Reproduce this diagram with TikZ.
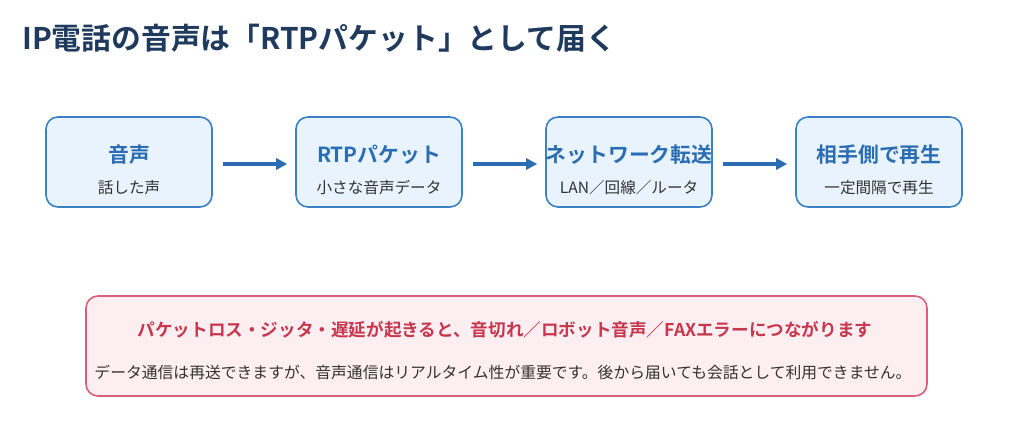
\documentclass[tikz,border=0pt]{standalone}
\usepackage{fontspec}
\setmainfont{Noto Sans CJK JP}[BoldFont={Noto Sans CJK JP Bold}]
\usetikzlibrary{arrows.meta}
\definecolor{navy}{HTML}{1F3A5C}
\definecolor{bluet}{HTML}{2B6DB2}
\definecolor{bluefill}{HTML}{E8F3FD}
\definecolor{blueline}{HTML}{3A82C4}
\definecolor{redt}{HTML}{C8374E}
\definecolor{redfill}{HTML}{FDEEF1}
\definecolor{redline}{HTML}{D9607A}
\definecolor{graytext}{HTML}{333333}
\tikzset{
  stepbox/.style={draw=blueline, fill=bluefill, line width=1.6pt, rounded corners=12pt, minimum width=166pt, minimum height=90pt, inner sep=0pt},
  boxtitle/.style={font=\bfseries\fontsize{20.8}{24}\selectfont, text=bluet, inner sep=0pt},
  boxsub/.style={font=\fontsize{15.6}{18}\selectfont, text=graytext, inner sep=0pt},
  flow/.style={draw=bluet, line width=3.5pt, -{Triangle[length=11pt,width=11pt]}},
}
\begin{document}
\begin{tikzpicture}[x=1pt,y=-1pt]
\useasboundingbox (0,0) rectangle (1024,447);
\node[anchor=west, font=\bfseries\fontsize{29.8}{34}\selectfont, text=navy, inner sep=0pt] (title) at (22,38) {IP電話の音声は「RTPパケット」として届く};

\node[stepbox] (b1) at (129,162) {};
\node[stepbox] (b2) at (379,162) {};
\node[stepbox] (b3) at (629,162) {};
\node[stepbox] (b4) at (879,162) {};

\node[boxtitle] (t1) at (129,155) {音声};
\node[boxsub] (s1) at (129,188) {話した声};
\node[boxtitle] (t2) at (379,155) {RTPパケット};
\node[boxsub] (s2) at (379,188) {小さな音声データ};
\node[boxtitle] (t3) at (629,155) {ネットワーク転送};
\node[boxsub] (s3) at (629,188) {LAN／回線／ルータ};
\node[boxtitle] (t4) at (879,155) {相手側で再生};
\node[boxsub] (s4) at (879,188) {一定間隔で再生};

\draw[flow] ([xshift=10pt,yshift=-2pt]b1.east) -- ([xshift=-8pt,yshift=-2pt]b2.west);
\draw[flow] ([xshift=10pt,yshift=-2pt]b2.east) -- ([xshift=-8pt,yshift=-2pt]b3.west);
\draw[flow] ([xshift=10pt,yshift=-2pt]b3.east) -- ([xshift=-8pt,yshift=-2pt]b4.west);

\node[draw=redline, fill=redfill, line width=1.6pt, rounded corners=12pt, minimum width=841pt, minimum height=100pt, inner sep=0pt] (warn) at (506.5,346) {};
\node[font=\bfseries\fontsize{17.6}{20}\selectfont, text=redt, inner sep=0pt] (wt) at (505,330) {パケットロス・ジッタ・遅延が起きると、音切れ／ロボット音声／FAXエラーにつながります};
\node[font=\fontsize{15.8}{18}\selectfont, text=graytext, inner sep=0pt] (ws) at (503,372) {データ通信は再送できますが、音声通信はリアルタイム性が重要です。後から届いても会話として利用できません。};
\end{tikzpicture}
\end{document}
